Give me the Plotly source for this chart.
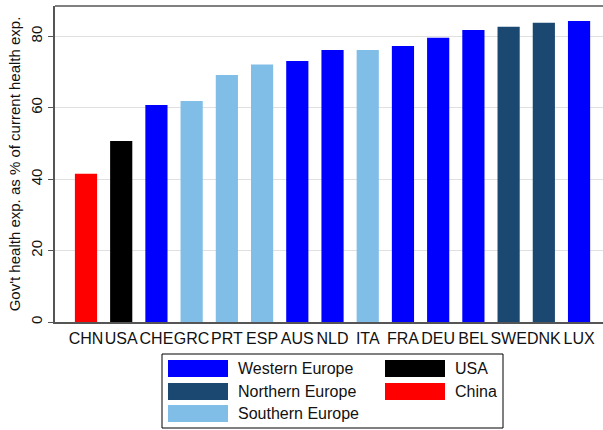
import plotly.graph_objects as go

countries = ["CHN", "USA", "CHE", "GRC", "PRT", "ESP", "AUS", "NLD", "ITA",
             "FRA", "DEU", "BEL", "SWE", "DNK", "LUX"]
values = [41.5, 50.7, 60.8, 61.9, 69.2, 72.1, 73.1, 76.2, 76.2,
          77.3, 79.6, 81.8, 82.7, 83.8, 84.3]
regions = ["China", "USA", "Western Europe", "Southern Europe", "Southern Europe",
           "Southern Europe", "Western Europe", "Western Europe", "Southern Europe",
           "Western Europe", "Western Europe", "Western Europe", "Northern Europe",
           "Northern Europe", "Western Europe"]
region_colors = {
    "Western Europe": "#0000FF",
    "Northern Europe": "#1B4870",
    "Southern Europe": "#80BEE8",
    "USA": "#000000",
    "China": "#FF0000",
}
y_ticks = [0, 20, 40, 60, 80]

W, H = 603, 430
L, R, T, B = 55, 0, 6, 108
pw, ph = W - L - R, H - T - B

def px(x):
    return (x - L) / pw

def py(y):
    return (H - B - y) / ph

fig = go.Figure()
fig.add_trace(go.Bar(
    x=countries, y=values,
    marker=dict(color=[region_colors[r] for r in regions], line=dict(width=0)),
    width=0.63, showlegend=False,
))

shapes = []
annotations = []
shapes.append(dict(type="line", xref="paper", yref="paper", x0=0, x1=1.05, y0=1, y1=1,
                   line=dict(color="#808080", width=2)))
shapes.append(dict(type="rect", xref="paper", yref="paper",
                   x0=px(162), x1=px(503), y0=py(354), y1=py(428),
                   line=dict(color="#000000", width=1), fillcolor="white"))
legend_items = [
    ("Western Europe", 168, 360),
    ("Northern Europe", 168, 383),
    ("Southern Europe", 168, 405),
    ("USA", 385, 360),
    ("China", 385, 383),
]
for name, sx, sy in legend_items:
    shapes.append(dict(type="rect", xref="paper", yref="paper",
                       x0=px(sx), x1=px(sx + 60), y0=py(sy), y1=py(sy + 17),
                       line=dict(width=0), fillcolor=region_colors[name]))
    annotations.append(dict(xref="paper", yref="paper", x=px(sx + 68), y=py(sy + 8.5),
                            text=name, showarrow=False, xanchor="left", yanchor="middle",
                            font=dict(family="Liberation Sans, Arial", size=16, color="#111")))

fig.update_layout(
    width=W, height=H,
    margin=dict(l=L, r=R, t=T, b=B),
    paper_bgcolor="white", plot_bgcolor="white",
    font=dict(family="Liberation Sans, Arial", size=15, color="#111"),
    shapes=shapes, annotations=annotations,
    xaxis=dict(type="category", categoryorder="array", categoryarray=countries,
               range=[-0.88, 14.68], showline=True, linecolor="#555", linewidth=1.5,
               ticks="", showgrid=False, tickfont=dict(size=16), tickangle=0,
               ticklabelstandoff=1),
    yaxis=dict(range=[0, 88.5], tickvals=y_ticks, showline=True, linecolor="#555",
               linewidth=1.5, ticks="outside", ticklen=5, tickcolor="#555",
               showgrid=True, gridcolor="#E0E0E0", gridwidth=1, zeroline=False,
               tickangle=-90, tickfont=dict(size=15),
               title=dict(text="Gov't health exp. as % of current health exp.",
                          font=dict(size=15), standoff=4)),
)

fig.write_html(
    "out.html",
    config={"displayModeBar": False},
    post_script="document.body.style.margin='0';document.body.style.overflow='hidden';",
)
